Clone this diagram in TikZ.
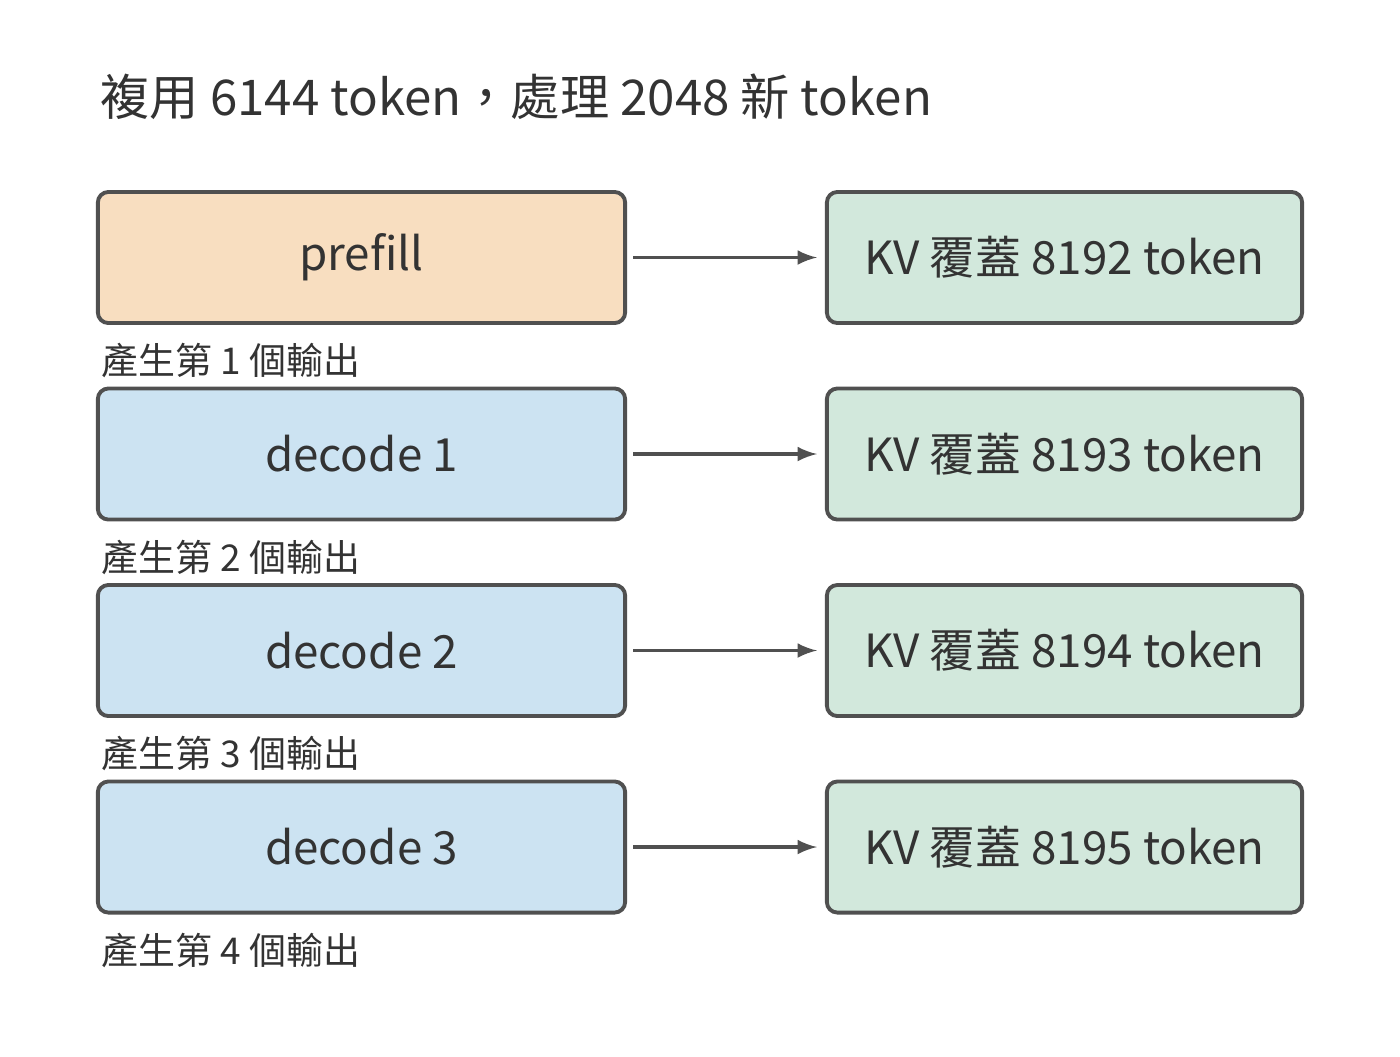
\documentclass[tikz,border=0pt]{standalone}
\usepackage{fontspec}
\setmainfont{Noto Sans CJK TC}
\usepackage{tikz}
\definecolor{linegray}{HTML}{505050}
\definecolor{txtgray}{HTML}{333333}
\definecolor{prefillfill}{HTML}{F8DEC0}
\definecolor{decodefill}{HTML}{CCE3F2}
\definecolor{kvfill}{HTML}{D2E8DC}
\tikzset{
  box/.style={draw=linegray, line width=1.1pt, rounded corners=3pt, minimum width=5.27cm, minimum height=1.31cm, text=txtgray, font=\fontsize{13}{15}\selectfont},
  kvbox/.style={box, minimum width=4.75cm, fill=kvfill},
  lbl/.style={anchor=west, inner sep=0pt, text=txtgray, font=\fontsize{10.5}{12}\selectfont},
  arr/.style={draw=linegray, line width=0.9pt, -latex}
}
\begin{document}
\begin{tikzpicture}[x=0.01cm, y=-0.01cm]
    \useasboundingbox (0,0) rectangle (1400,1056);
    % タイトル
    \node[lbl, font=\fontsize{14}{16}\selectfont] (title) at (100,97) {複用 6144 token，處理 2048 新 token};

    % ノード
    \node[box, fill=prefillfill] (P) at (361.5,257.5) {prefill};
    \node[box, fill=decodefill] (D1) at (361.5,454) {decode 1};
    \node[box, fill=decodefill] (D2) at (361.5,650.5) {decode 2};
    \node[box, fill=decodefill] (D3) at (361.5,847) {decode 3};
    \node[kvbox] (K0) at (1064.5,257.5) {KV 覆蓋 8192 token};
    \node[kvbox] (K1) at (1064.5,454) {KV 覆蓋 8193 token};
    \node[kvbox] (K2) at (1064.5,650.5) {KV 覆蓋 8194 token};
    \node[kvbox] (K3) at (1064.5,847) {KV 覆蓋 8195 token};

    % ラベル
    \node[lbl] (L1) at (101,360) {產生第 1 個輸出};
    \node[lbl] (L2) at (101,557) {產生第 2 個輸出};
    \node[lbl] (L3) at (101,753) {產生第 3 個輸出};
    \node[lbl] (L4) at (101,950) {產生第 4 個輸出};

    % エッジ
    \draw[arr] ([xshift=0.06cm]P.east) -- ([xshift=-0.08cm]K0.west);
    \draw[arr] ([xshift=0.06cm]D1.east) -- ([xshift=-0.08cm]K1.west);
    \draw[arr] ([xshift=0.06cm]D2.east) -- ([xshift=-0.08cm]K2.west);
    \draw[arr] ([xshift=0.06cm]D3.east) -- ([xshift=-0.08cm]K3.west);
\end{tikzpicture}
\end{document}
